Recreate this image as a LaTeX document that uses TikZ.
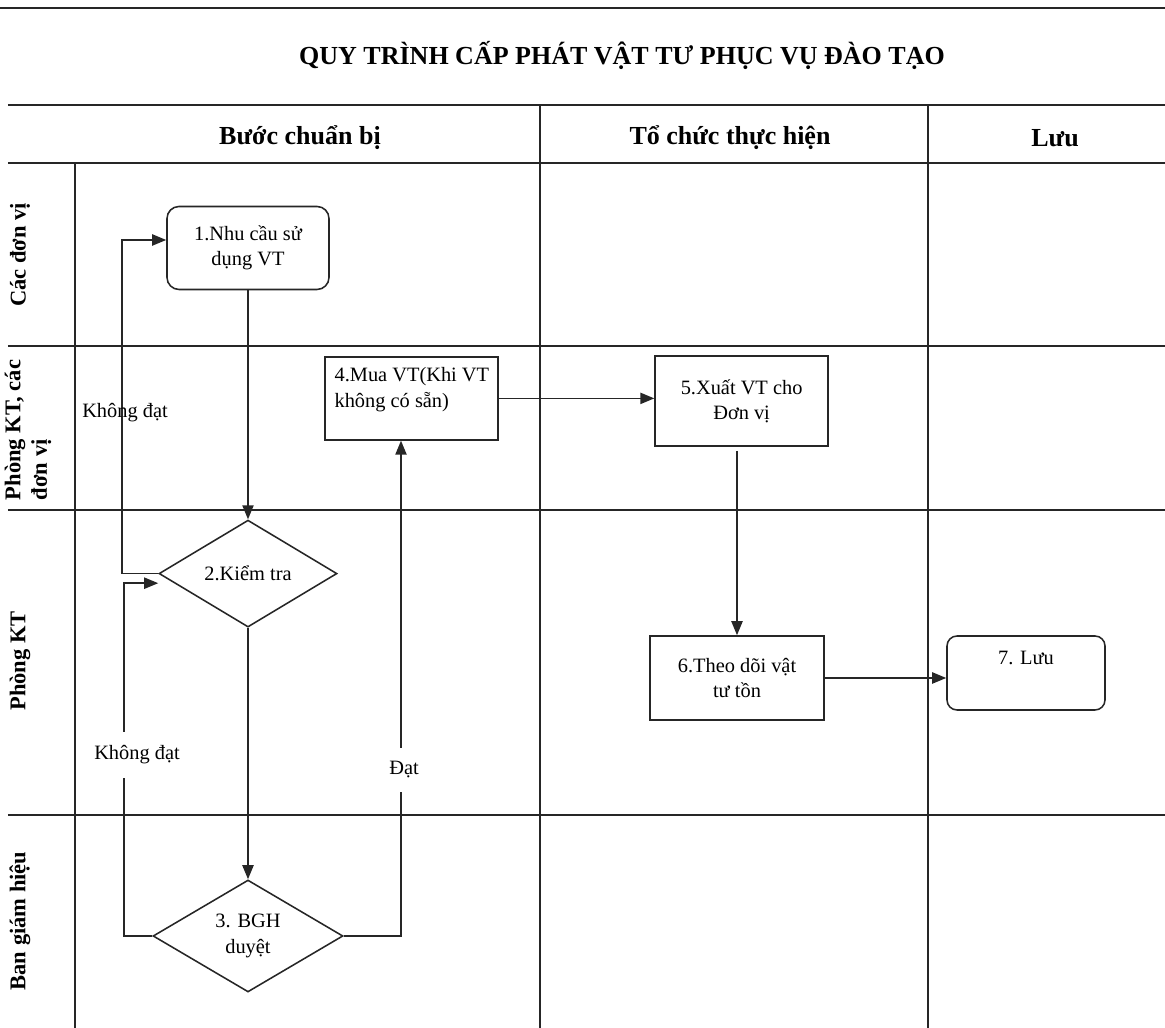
\documentclass[tikz,border=0pt]{standalone}
\usepackage{fontspec}
\setmainfont{Liberation Serif}
\usetikzlibrary{arrows.meta,positioning,shapes.geometric}

\begin{document}
\begin{tikzpicture}[
    font=\fontsize{14.5}{18}\selectfont,
    grid/.style={line width=1.2pt, black!85},
    head/.style={font=\fontsize{18.5}{22}\selectfont\bfseries},
    lane/.style={rotate=90, align=left, font=\fontsize{16}{19}\selectfont\bfseries},
    box/.style={draw=black!85, line width=1.1pt, inner sep=0pt, align=center},
    rbox/.style={box, rounded corners=0.3cm},
    dec/.style={draw=black!85, diamond, line width=1.1pt, inner sep=0pt, align=center},
    flow/.style={draw=black!85, line width=1.1pt, -{Triangle[length=10pt,width=8pt]}},
    lbl/.style={fill=white, inner xsep=2pt, inner ysep=0.35cm}
]
\useasboundingbox (0,0) rectangle (29.125,25.7);

\draw[grid] (0,25.5) -- (29.125,25.5);
\draw[grid] (0.2,23.075) -- (29.125,23.075);
\draw[grid] (0.2,21.625) -- (29.125,21.625);
\foreach \y in {17.05,12.95,5.325}
    \draw[grid] (0.2,\y) -- (29.125,\y);
\draw[grid] (1.875,21.625) -- (1.875,0);
\draw[grid] (13.5,23.075) -- (13.5,0);
\draw[grid] (23.2,23.075) -- (23.2,0);

\node[head] (title) at (15.55,24.325) {QUY TRÌNH CẤP PHÁT VẬT TƯ PHỤC VỤ ĐÀO TẠO};
\node[head] (h1) at (7.5,22.25) {Bước chuẩn bị};
\node[head] (h2) at (18.25,22.25) {Tổ chức thực hiện};
\node[head] (h3) at (26.375,22.25) {Lưu};

\node[lane] (l1) at (0.5,19.325) {Các đơn vị};
\node[lane] (l2) at (0.7,14.95) {Phòng KT, các\\đơn vị};
\node[lane] (l3) at (0.5,9.175) {Phòng KT};
\node[lane] (l4) at (0.5,2.675) {Ban giám hiệu};

\node[rbox, minimum width=4.05cm, minimum height=2.075cm] (n1) at (6.2,19.5) {1.Nhu cầu sử\\dụng VT};
\node[dec, minimum width=4.45cm, minimum height=2.675cm] (n2) at (6.2,11.36) {2.Kiểm tra};
\node[dec, minimum width=4.75cm, minimum height=2.8cm] (n3) at (6.2,2.3) {3. BGH\\duyệt};
\node[box, minimum width=4.325cm, minimum height=2.075cm] (n4) at (10.29,15.74) {};
\node[anchor=north west, align=left, inner sep=0pt] (t4) at ([xshift=0.25cm,yshift=-0.28cm]n4.north west) {4.Mua VT(Khi VT\\không có sẵn)};
\node[box, minimum width=4.325cm, minimum height=2.25cm] (n5) at (18.54,15.675) {5.Xuất VT cho\\Đơn vị};
\node[box, minimum width=4.35cm, minimum height=2.1cm] (n6) at (18.425,8.75) {6.Theo dõi vật\\tư tồn};
\node[rbox, rounded corners=0.25cm, minimum width=3.95cm, minimum height=1.85cm] (n7) at (25.65,8.875) {};
\node[anchor=north, inner sep=0pt] (t7) at ([yshift=-0.4cm]n7.north) {7. Lưu};

\coordinate (k2) at ([yshift=-0.24cm]n2.west);
\draw[flow] (n1.south) -- (n2.north);
\draw[flow] (n2.south) -- (n3.north);
\draw[flow] (n2.west) -- ++(-0.9,0) |- ([yshift=0.2cm]n1.west);
\draw[flow] (n3.west) -- ++(-0.7,0) |- (k2);
\draw[flow] (n3.east) -| ([xshift=-0.265cm]n4.south);
\draw[flow] (n4.east) -- (n4.east -| n5.west);
\draw[flow, shorten <=3pt] (n6.north |- n5.south) -- (n6.north);
\draw[flow] (n6.east) -- (n6.east -| n7.west);

\node (k1) at (3.125,15.375) {Không đạt};
\node[lbl] (k3) at (3.425,6.825) {Không đạt};
\node[lbl] (d1) at (10.1,6.45) {Đạt};

\end{tikzpicture}
\end{document}
